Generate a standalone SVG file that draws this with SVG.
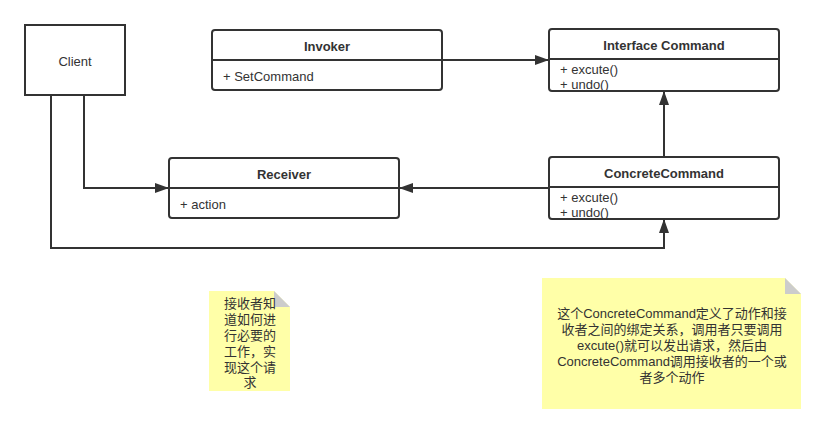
<svg xmlns="http://www.w3.org/2000/svg" width="826" height="435" viewBox="0 0 826 435">
<defs>
<marker id="arr" viewBox="0 0 14 10" refX="14" refY="5" markerWidth="14" markerHeight="10" markerUnits="userSpaceOnUse" orient="auto">
<path d="M0,0 L14,5 L0,10 Z" fill="#333"/>
</marker>
<style>
.box{fill:#fff;stroke:#333;stroke-width:2}
.div{stroke:#333;stroke-width:2}
.t{font-family:"Liberation Sans","Noto Sans CJK SC",sans-serif;font-size:13px;fill:#333}
.b{font-weight:bold;text-anchor:middle}
.c{text-anchor:middle}
.line{fill:none;stroke:#333;stroke-width:2}
.note{fill:#ffffa8}
.fold{fill:#cccccc}
</style>
</defs>
<rect width="826" height="435" fill="#fff"/>
<g id="connectors">
<path class="line" d="M442,60 L549,60" marker-end="url(#arr)"/>
<path class="line" d="M664,157 L664,91" marker-end="url(#arr)"/>
<path class="line" d="M549,188 L399,188" marker-end="url(#arr)"/>
<path class="line" d="M84,95 L84,188 L169,188" marker-end="url(#arr)"/>
<path class="line" d="M51,95 L51,248 L664,248 L664,219" marker-end="url(#arr)"/>
</g>
<g id="client">
<rect class="box" x="25" y="25" width="100" height="70"/>
<text class="t c" x="75" y="65.5">Client</text>
</g>
<g id="invoker">
<rect class="box" x="212" y="30" width="230" height="60" rx="3"/>
<line class="div" x1="212" y1="60" x2="442" y2="60"/>
<text class="t b" x="327" y="50.5">Invoker</text>
<text class="t" x="223" y="80.5">+ SetCommand</text>
</g>
<g id="interface-command">
<rect class="box" x="549" y="29" width="230" height="62" rx="3"/>
<line class="div" x1="549" y1="59" x2="779" y2="59"/>
<text class="t b" x="664" y="49.5">Interface Command</text>
<text class="t" x="560" y="73.5">+ excute()</text>
<text class="t" x="560" y="88.5">+ undo()</text>
</g>
<g id="receiver">
<rect class="box" x="169" y="158" width="230" height="60" rx="3"/>
<line class="div" x1="169" y1="188" x2="399" y2="188"/>
<text class="t b" x="284" y="178.5">Receiver</text>
<text class="t" x="180" y="208.5">+ action</text>
</g>
<g id="concrete-command">
<rect class="box" x="549" y="157" width="230" height="62" rx="3"/>
<line class="div" x1="549" y1="187" x2="779" y2="187"/>
<text class="t b" x="664" y="177.5">ConcreteCommand</text>
<text class="t" x="560" y="201.5">+ excute()</text>
<text class="t" x="560" y="216.5">+ undo()</text>
</g>
<g id="note-receiver">
<path class="note" d="M209,291 L274,291 L290,307 L290,391 L209,391 Z"/>
<path class="fold" d="M274,291 L290,307 L274,307 Z"/>
<text class="t c" x="250" y="307.5">接收者知</text>
<text class="t c" x="250" y="323.5">道如何进</text>
<text class="t c" x="250" y="339.5">行必要的</text>
<text class="t c" x="250" y="355.5">工作，实</text>
<text class="t c" x="250" y="371.5">现这个请</text>
<text class="t c" x="250" y="387">求</text>
</g>
<g id="note-concrete">
<path class="note" d="M542,278 L785,278 L801,294 L801,409 L542,409 Z"/>
<path class="fold" d="M785,278 L801,294 L785,294 Z"/>
<text class="t c" x="672" y="317.5">这个ConcreteCommand定义了动作和接</text>
<text class="t c" x="672" y="333.5">收者之间的绑定关系，调用者只要调用</text>
<text class="t c" x="672" y="349.5">excute()就可以发出请求，然后由</text>
<text class="t c" x="672" y="365.5">ConcreteCommand调用接收者的一个或</text>
<text class="t c" x="672" y="381.5">者多个动作</text>
</g>
</svg>
